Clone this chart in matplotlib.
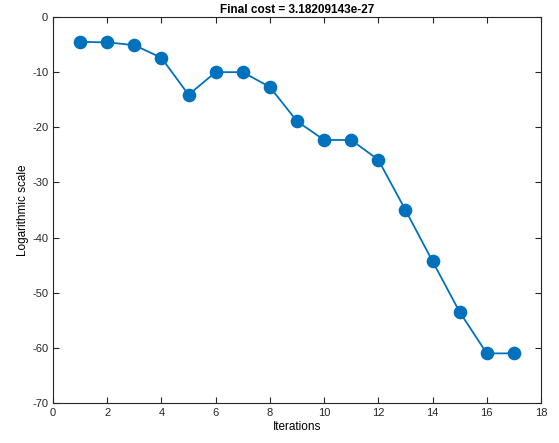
import matplotlib
matplotlib.use('Agg')
import matplotlib.pyplot as plt
import numpy as np

plt.rcParams['font.family'] = ['Liberation Sans', 'DejaVu Sans']
plt.rcParams['axes.unicode_minus'] = False

iterations = list(range(1, 18))
log_cost = [-4.5, -4.6, -5.1, -7.4, -14.1, -10.0, -10.0, -12.7, -18.9,
            -22.3, -22.3, -25.9, -35.0, -44.3, -53.5, -61.0, -61.0]
final_cost = 3.18209143e-27

fig = plt.figure(figsize=(5.59, 4.43), dpi=100)
ax = fig.add_axes([0.0948, 0.0903, 0.873, 0.8713])

ax.plot(iterations, log_cost, '-o', color='#0072BD', lw=1.3, ms=8.8)

ax.set_xlim(0, 18)
ax.set_ylim(-70, 0)
ax.set_xticks(np.arange(0, 19, 2))
ax.set_yticks(np.arange(-70, 1, 10))
ax.tick_params(direction='in', length=4, labelsize=8, colors='#262626',
               top=True, right=True, labeltop=False, labelright=False)
for s in ax.spines.values():
    s.set_color('#262626')
    s.set_linewidth(0.8)

ax.set_title('Final cost = %.8e' % final_cost, fontsize=8.5, fontweight='bold', pad=3)
ax.set_xlabel('Iterations', fontsize=8.5, labelpad=2)
ax.set_ylabel('Logarithmic scale', fontsize=8.5, labelpad=2)

plt.savefig('out.png', dpi=100)
